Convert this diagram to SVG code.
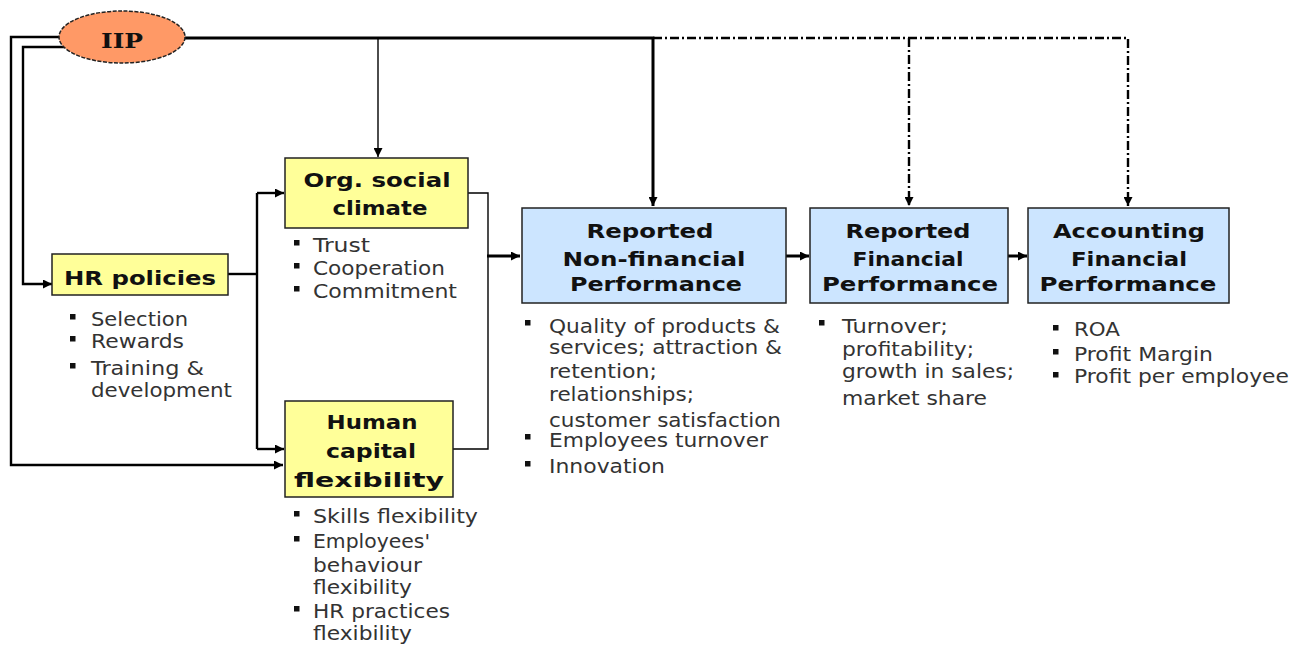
<svg xmlns="http://www.w3.org/2000/svg" width="1308" height="646" viewBox="0 0 1308 646">
<style>
.ybox{fill:#ffff99;stroke:#222;stroke-width:1.5}
.bbox{fill:#cce5ff;stroke:#222;stroke-width:1.5}
.t{font-family:"DejaVu Sans",Verdana,sans-serif;font-weight:bold;font-size:20px;fill:#111;text-anchor:middle}
.b{font-family:"DejaVu Sans",Verdana,sans-serif;font-size:19px;fill:#333}
.sq{fill:#111}
.c{fill:none;stroke:#000;stroke-linejoin:miter}
.thick{stroke-width:3}
.mid{stroke-width:2.4}
.thin{stroke-width:1.4}
.dd{stroke-width:2.4;stroke-dasharray:9,3,2,3}
</style>
<defs>
<marker id="ah" viewBox="0 0 10 10" refX="10" refY="5" markerWidth="9" markerHeight="9" markerUnits="userSpaceOnUse" orient="auto"><path d="M0,0 L10,5 L0,10 z" fill="#000"/></marker>
</defs>
<g id="connectors">
<path class="c thick" d="M185,38 H653 V206" marker-end="url(#ah)"/>
<path class="c dd" d="M653,38 H1128 V206" marker-end="url(#ah)"/>
<path class="c dd" d="M909,38 V206" marker-end="url(#ah)"/>
<path class="c thin" d="M378,38 V157" marker-end="url(#ah)"/>
<path class="c mid" d="M60,37 H11 V465 H283" marker-end="url(#ah)"/>
<path class="c mid" d="M64,47 H23 V284 H52" marker-end="url(#ah)"/>
<path class="c mid" d="M228,274 H257"/>
<path class="c mid" d="M257,193 V449"/>
<path class="c mid" d="M257,193 H284" marker-end="url(#ah)"/>
<path class="c mid" d="M257,449 H284" marker-end="url(#ah)"/>
<path class="c thin" d="M468,193 H488 V449 H453"/>
<path class="c thick" d="M487,256 H520" marker-end="url(#ah)"/>
<path class="c thick" d="M786,256 H809" marker-end="url(#ah)"/>
<path class="c thick" d="M1008,256 H1027" marker-end="url(#ah)"/>
</g>
<g id="iip">
<ellipse cx="122" cy="37" rx="63" ry="26" fill="#ff9966" stroke="#222" stroke-width="1.5" stroke-dasharray="4,1.5"/>
<text x="122" y="48" font-family="'DejaVu Serif','Liberation Serif',serif" font-weight="bold" font-size="20" text-anchor="middle" fill="#111" textLength="42" lengthAdjust="spacingAndGlyphs">IIP</text>
</g>
<g id="hr-policies">
<rect class="ybox" x="52" y="254" width="176" height="41"/>
<text class="t" x="140" y="285" font-size="21" textLength="152" lengthAdjust="spacingAndGlyphs">HR policies</text>
<rect class="sq" x="70" y="314" width="5.5" height="5.5"/>
<rect class="sq" x="70" y="336" width="5.5" height="5.5"/>
<rect class="sq" x="70" y="363" width="5.5" height="5.5"/>
<text class="b" x="91" y="326" textLength="97" lengthAdjust="spacingAndGlyphs">Selection</text>
<text class="b" x="91" y="348" textLength="93" lengthAdjust="spacingAndGlyphs">Rewards</text>
<text class="b" x="91" y="375" textLength="113" lengthAdjust="spacingAndGlyphs">Training &amp;</text>
<text class="b" x="91" y="397" textLength="141" lengthAdjust="spacingAndGlyphs">development</text>
</g>
<g id="org-social-climate">
<rect class="ybox" x="285" y="158" width="183" height="70"/>
<text class="t" x="377" y="187" textLength="147" lengthAdjust="spacingAndGlyphs">Org. social</text>
<text class="t" x="380" y="215" textLength="95" lengthAdjust="spacingAndGlyphs">climate</text>
<rect class="sq" x="294" y="240" width="5.5" height="5.5"/>
<rect class="sq" x="294" y="263" width="5.5" height="5.5"/>
<rect class="sq" x="294" y="286" width="5.5" height="5.5"/>
<text class="b" x="313" y="252" textLength="57" lengthAdjust="spacingAndGlyphs">Trust</text>
<text class="b" x="313" y="275" textLength="132" lengthAdjust="spacingAndGlyphs">Cooperation</text>
<text class="b" x="313" y="298" textLength="144" lengthAdjust="spacingAndGlyphs">Commitment</text>
</g>
<g id="human-capital-flexibility">
<rect class="ybox" x="285" y="401" width="168" height="96"/>
<text class="t" x="372" y="429" textLength="91" lengthAdjust="spacingAndGlyphs">Human</text>
<text class="t" x="371" y="458" textLength="90" lengthAdjust="spacingAndGlyphs">capital</text>
<text class="t" x="369" y="487" textLength="150" lengthAdjust="spacingAndGlyphs">flexibility</text>
<rect class="sq" x="294" y="511" width="5.5" height="5.5"/>
<rect class="sq" x="294" y="536" width="5.5" height="5.5"/>
<rect class="sq" x="294" y="606" width="5.5" height="5.5"/>
<text class="b" x="313" y="523" textLength="165" lengthAdjust="spacingAndGlyphs">Skills flexibility</text>
<text class="b" x="313" y="548" textLength="117" lengthAdjust="spacingAndGlyphs">Employees'</text>
<text class="b" x="313" y="572" textLength="109" lengthAdjust="spacingAndGlyphs">behaviour</text>
<text class="b" x="313" y="594" textLength="99" lengthAdjust="spacingAndGlyphs">flexibility</text>
<text class="b" x="313" y="618" textLength="137" lengthAdjust="spacingAndGlyphs">HR practices</text>
<text class="b" x="313" y="640" textLength="99" lengthAdjust="spacingAndGlyphs">flexibility</text>
</g>
<g id="reported-nonfinancial">
<rect class="bbox" x="522" y="208" width="264" height="95"/>
<text class="t" x="650" y="238" textLength="127" lengthAdjust="spacingAndGlyphs">Reported</text>
<text class="t" x="654" y="266" textLength="183" lengthAdjust="spacingAndGlyphs">Non-financial</text>
<text class="t" x="656" y="291" textLength="172" lengthAdjust="spacingAndGlyphs">Performance</text>
<rect class="sq" x="525" y="320" width="5.5" height="5.5"/>
<rect class="sq" x="525" y="434" width="5.5" height="5.5"/>
<rect class="sq" x="525" y="461" width="5.5" height="5.5"/>
<text class="b" x="549" y="333" textLength="231" lengthAdjust="spacingAndGlyphs">Quality of products &amp;</text>
<text class="b" x="549" y="354" textLength="233" lengthAdjust="spacingAndGlyphs">services; attraction &amp;</text>
<text class="b" x="549" y="378" textLength="108" lengthAdjust="spacingAndGlyphs">retention;</text>
<text class="b" x="549" y="401" textLength="145" lengthAdjust="spacingAndGlyphs">relationships;</text>
<text class="b" x="549" y="427" textLength="232" lengthAdjust="spacingAndGlyphs">customer satisfaction</text>
<text class="b" x="549" y="447" textLength="219" lengthAdjust="spacingAndGlyphs">Employees turnover</text>
<text class="b" x="549" y="473" textLength="116" lengthAdjust="spacingAndGlyphs">Innovation</text>
</g>
<g id="reported-financial">
<rect class="bbox" x="810" y="208" width="198" height="95"/>
<text class="t" x="908" y="238" textLength="125" lengthAdjust="spacingAndGlyphs">Reported</text>
<text class="t" x="908" y="266" textLength="111" lengthAdjust="spacingAndGlyphs">Financial</text>
<text class="t" x="910" y="291" textLength="176" lengthAdjust="spacingAndGlyphs">Performance</text>
<rect class="sq" x="819" y="320" width="5.5" height="5.5"/>
<text class="b" x="842" y="333" textLength="106" lengthAdjust="spacingAndGlyphs">Turnover;</text>
<text class="b" x="842" y="356" textLength="132" lengthAdjust="spacingAndGlyphs">profitability;</text>
<text class="b" x="842" y="378" textLength="172" lengthAdjust="spacingAndGlyphs">growth in sales;</text>
<text class="b" x="842" y="405" textLength="145" lengthAdjust="spacingAndGlyphs">market share</text>
</g>
<g id="accounting-financial">
<rect class="bbox" x="1028" y="208" width="201" height="95"/>
<text class="t" x="1129" y="238" textLength="152" lengthAdjust="spacingAndGlyphs">Accounting</text>
<text class="t" x="1129" y="266" textLength="116" lengthAdjust="spacingAndGlyphs">Financial</text>
<text class="t" x="1128" y="291" textLength="177" lengthAdjust="spacingAndGlyphs">Performance</text>
<rect class="sq" x="1053" y="325" width="5.5" height="5.5"/>
<rect class="sq" x="1053" y="349" width="5.5" height="5.5"/>
<rect class="sq" x="1053" y="372" width="5.5" height="5.5"/>
<text class="b" x="1074" y="336" textLength="46" lengthAdjust="spacingAndGlyphs">ROA</text>
<text class="b" x="1074" y="361" textLength="139" lengthAdjust="spacingAndGlyphs">Profit Margin</text>
<text class="b" x="1074" y="383" textLength="215" lengthAdjust="spacingAndGlyphs">Profit per employee</text>
</g>
</svg>
